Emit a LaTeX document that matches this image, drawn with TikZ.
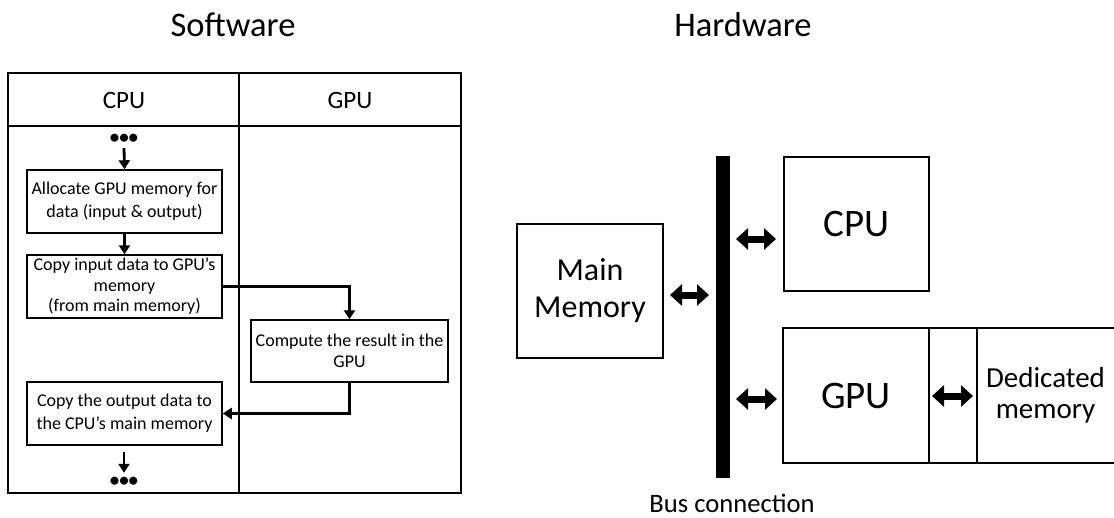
\documentclass[tikz,border=0pt]{standalone}
\usepackage{fontspec}
\setmainfont{Carlito}
\usetikzlibrary{arrows.meta}
\begin{document}
\begin{tikzpicture}[x=1pt,y=-1pt,
  swbox/.style={draw, line width=1.5pt, inner sep=0pt, align=center,
    font=\fontsize{18}{23}\selectfont},
  hwbox/.style={draw, line width=1.6pt, inner sep=0pt, align=center},
  flowarrow/.style={line width=2.8pt, -{Triangle[length=9pt,width=11pt]}},
  dbl/.style={line width=7pt, {Triangle[length=12pt,width=21pt]}-{Triangle[length=12pt,width=21pt]}},
  title/.style={font=\fontsize{34.5}{40}\selectfont, anchor=base},
  dots/.style={font=\fontsize{19}{20}\selectfont\bfseries, inner sep=0pt, minimum height=18pt}
]
\useasboundingbox (0,0) rectangle (1114,517);

% titles
\node[title] (tsw) at (233,36) {Software};
\node[title] (thw) at (743,36) {Hardware};

% table
\draw[line width=1.5pt] (8,73) rectangle (461,493);
\draw[line width=1.5pt] (8,126) -- (461,126);
\draw[line width=1.5pt] (239,73) -- (239,493);
\node[font=\fontsize{25}{30}\selectfont] (hcpu) at (124,100) {CPU};
\node[font=\fontsize{25}{30}\selectfont] (hgpu) at (350,100) {GPU};

% software flow
\node[dots] (dots1) at (124,139) {•••};
\coordinate (d1) at (124,148);
\node[swbox, minimum width=195pt, minimum height=63pt] (box1) at (124.5,201.5)
  {Allocate GPU memory for\\data (input \& output)};
\node[swbox, minimum width=195pt, minimum height=63pt,
  font=\fontsize{18}{20.5}\selectfont] (box2) at (124.5,286.5)
  {Copy input data to GPU’s\\memory\\(from main memory)};
\node[swbox, minimum width=197pt, minimum height=62pt,
  font=\fontsize{18}{21}\selectfont] (box3) at (349.5,351)
  {Compute the result in the\\GPU};
\node[swbox, minimum width=195pt, minimum height=63pt] (box4) at (124.5,413.5)
  {Copy the output data to\\the CPU’s main memory};
\coordinate (d2) at (124,452);
\node[dots] (dots2) at (124,482) {•••};

\draw[flowarrow] (d1) -- (box1.north);
\draw[flowarrow] (box1.south) -- (box2.north);
\draw[flowarrow] (box2.east) -| (box3.north);
\draw[flowarrow] (box3.south) |- (box4.east);
\draw[flowarrow] (d2) -- (dots2.north);

% hardware
\node[hwbox, minimum width=146pt, minimum height=134pt,
  font=\fontsize{32}{37}\selectfont] (mm) at (590,291) {Main\\Memory};
\node[fill=black, inner sep=0pt, minimum width=14pt, minimum height=322pt] (bus) at (723,317) {};
\node[hwbox, minimum width=145pt, minimum height=134pt,
  font=\fontsize{39}{44}\selectfont] (cpuhw) at (856.5,224) {CPU};
\node[hwbox, minimum width=146pt, minimum height=135pt,
  font=\fontsize{39}{44}\selectfont] (gpuhw) at (856,395.5) {GPU};
\node[inner sep=0pt, minimum width=48pt, minimum height=135pt] (gap) at (953,395.5) {};
\node[inner sep=0pt, minimum width=137pt, minimum height=135pt, align=center,
  font=\fontsize{29}{31}\selectfont] (ded) at (1045.5,395.5) {Dedicated\\memory};
\draw[line width=1.6pt] (ded.north east) -- (gap.north west) -- (gap.south west) -- (ded.south east);
\draw[line width=1.6pt] (ded.north west) -- (ded.south west);
\node[font=\fontsize{26.6}{30}\selectfont, anchor=base] (buslbl) at (732,512) {Bus connection};

\coordinate (a1l) at (670,295);
\coordinate (a1r) at (709,295);
\coordinate (a2l) at (736,239);
\coordinate (a2r) at (776,239);
\coordinate (a3l) at (736,399);
\coordinate (a3r) at (777,399);
\coordinate (a4l) at (932,396);
\coordinate (a4r) at (973,396);
\draw[dbl] (a1l) -- (a1r);
\draw[dbl] (a2l) -- (a2r);
\draw[dbl] (a3l) -- (a3r);
\draw[dbl] (a4l) -- (a4r);
\end{tikzpicture}
\end{document}
